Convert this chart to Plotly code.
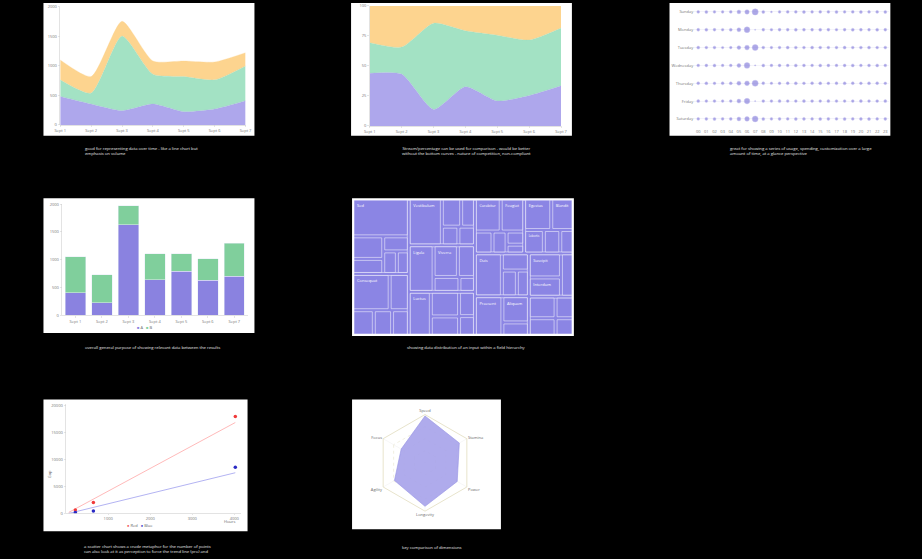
import numpy as np
import plotly.graph_objects as go

W, H = 922, 559


def fx(p):
    return p / W


def fy(p):
    return 1 - p / H


# ---------------- DATA ----------------
area_days = ["Sept 1", "Sept 2", "Sept 3", "Sept 4", "Sept 5", "Sept 6", "Sept 7"]
area_purple = [483, 354, 242, 354, 225, 270, 410]
area_green = [281, 185, 1264, 506, 595, 494, 590]
area_orange = [337, 281, 252, 224, 264, 303, 225]
area_ticks = [0, 500, 1000, 1500, 2000]

pct_ticks = [0, 25, 50, 75, 100]

dot_days = ["Sunday", "Monday", "Tuesday", "Wednesday", "Thursday", "Friday", "Saturday"]
dot_hours = ["%02d" % h for h in range(24)]
dot_sunday = [28, 30, 27, 26, 29, 38, 45, 62, 30, 18, 27, 29, 28, 30, 27, 29, 28, 30, 27, 29, 30, 28, 29, 30]
dot_monday = [29, 30, 28, 27, 30, 40, 58, 12, 28, 27, 29, 28, 30, 29, 28, 30, 29, 27, 28, 30, 29, 28, 30, 29]
dot_tuesday = [30, 28, 29, 24, 26, 38, 47, 60, 29, 26, 28, 30, 29, 28, 30, 29, 28, 29, 30, 28, 29, 30, 28, 29]
dot_wednesday = [28, 29, 30, 27, 28, 39, 57, 13, 30, 28, 29, 28, 30, 29, 28, 30, 29, 28, 29, 30, 28, 29, 30, 28]
dot_thursday = [29, 30, 28, 29, 30, 41, 48, 61, 29, 26, 28, 29, 30, 28, 29, 30, 28, 29, 30, 29, 28, 30, 29, 28]
dot_friday = [30, 28, 29, 27, 29, 40, 56, 12, 29, 28, 30, 29, 28, 30, 29, 28, 30, 29, 28, 29, 30, 28, 29, 30]
dot_saturday = [28, 29, 30, 28, 29, 39, 47, 59, 30, 27, 29, 28, 30, 29, 28, 30, 29, 28, 30, 28, 29, 30, 28, 29]
dot_rows = [dot_sunday, dot_monday, dot_tuesday, dot_wednesday, dot_thursday, dot_friday, dot_saturday]

bar_days = ["Sept 1", "Sept 2", "Sept 3", "Sept 4", "Sept 5", "Sept 6", "Sept 7"]
bar_a = [400, 221, 1630, 639, 788, 627, 698]
bar_b = [657, 507, 340, 465, 316, 388, 598]
bar_ticks = [0, 500, 1000, 1500, 2000]
bar_names = ["A", "B"]

tm_labels = [
    "Lorem ipsum",
    "Sed", "Sed", "Magna", "Nisl", "Orci", "Justo", "Felis",
    "Curabitur", "Curabitur", "Feugiat", "Mollis", "Porta", "Velit", "Risus",
    "Vestibulum", "Vestibulum", "Massa", "Neque", "Lacus", "Urna",
    "Duis", "Duis", "Rutrum", "Sapien", "Dui",
    "Praesent", "Praesent", "Aliquam", "Nunc",
    "Mauris", "Suscipit", "Interdum", "Mauris",
    "Egestas", "Egestas", "Blandit", "Lobortis", "Ante", "Erat",
    "Ligula", "Ligula", "Viverra", "Tellus", "Quam", "Morbi",
    "Consequat", "Consequat", "Pretium", "Lectus", "Metus", "Nibh",
    "Luctus", "Luctus", "Dictum", "Gravida", "Tortor", "Arcu",
    "Ultricies", "Ultricies", "Cursus", "Iaculis", "Eros",
]
tm_parents = [
    "",
    "Lorem ipsum", "Sed", "Sed", "Sed", "Sed", "Sed", "Sed",
    "Lorem ipsum", "Curabitur", "Curabitur", "Curabitur", "Curabitur", "Curabitur", "Curabitur",
    "Lorem ipsum", "Vestibulum", "Vestibulum", "Vestibulum", "Vestibulum", "Vestibulum",
    "Lorem ipsum", "Duis", "Duis", "Duis", "Duis",
    "Lorem ipsum", "Praesent", "Praesent", "Praesent",
    "Lorem ipsum", "Mauris", "Mauris", "Mauris",
    "Lorem ipsum", "Egestas", "Egestas", "Egestas", "Egestas", "Egestas",
    "Lorem ipsum", "Ligula", "Ligula", "Ligula", "Ligula", "Ligula",
    "Lorem ipsum", "Consequat", "Consequat", "Consequat", "Consequat", "Consequat",
    "Lorem ipsum", "Luctus", "Luctus", "Luctus", "Luctus", "Luctus",
    "Lorem ipsum", "Ultricies", "Ultricies", "Ultricies", "Ultricies",
]
tm_values = [
    0,
    0, 55, 18, 12, 10, 8, 7,
    0, 22, 20, 10, 8, 6, 4,
    0, 40, 14, 10, 8, 8,
    0, 30, 12, 10, 8,
    0, 28, 18, 9,
    0, 20, 16, 14,
    0, 22, 18, 12, 10, 8,
    0, 30, 20, 14, 10, 6,
    0, 35, 18, 14, 12, 11,
    0, 25, 18, 14, 10, 8,
    0, 15, 12, 10, 8,
]
tm_shown = {"Sed", "Curabitur", "Feugiat", "Vestibulum", "Duis", "Praesent", "Aliquam",
            "Suscipit", "Interdum", "Egestas", "Blandit", "Ligula", "Viverra",
            "Consequat", "Luctus", "Lobortis"}

scat_red_x = [219, 648, 4023]
scat_red_y = [615, 2031, 18031]
scat_blue_x = [219, 648, 4023]
scat_blue_y = [185, 431, 8615]
trend_x = [62, 4023]
trend_red_y = [185, 16920]
trend_blue_y = [0, 7570]
scat_xticks = [1000, 2000, 3000, 4000]
scat_yticks = [0, 5000, 10000, 15000, 20000]
scat_names = ["Red", "Blue"]

radar_axes = ["Speed", "Stamina", "Power", "Longevity", "Agility", "Focus"]
radar_values = [97, 82, 77, 90, 73, 57]

# ---------------- STYLE ----------------
C_PURPLE_L = "#aea7ec"
C_GREEN_L = "#a3e2c4"
C_ORANGE_L = "#fdd48f"
C_PURPLE = "#8a82e0"
C_GREEN = "#80cf9c"
TICKF = dict(family="Open Sans", size=4, color="#777")
CAPF = dict(family="Open Sans", size=4.2, color="#e8e8e8")

fig = go.Figure()

# ---- Chart 1: stacked area ----
for vals, col in [(area_purple, C_PURPLE_L), (area_green, C_GREEN_L), (area_orange, C_ORANGE_L)]:
    fig.add_trace(go.Scatter(x=area_days, y=vals, stackgroup="a1", mode="lines",
                             line=dict(width=0.3, color=col, shape="spline", smoothing=0.6),
                             fillcolor=col, xaxis="x", yaxis="y", showlegend=False, hoverinfo="skip"))

# ---- Chart 2: percentage stacked area ----
for vals, col in [(area_purple, C_PURPLE_L), (area_green, C_GREEN_L), (area_orange, C_ORANGE_L)]:
    fig.add_trace(go.Scatter(x=area_days, y=vals, stackgroup="a2", groupnorm="percent", mode="lines",
                             line=dict(width=0.3, color=col, shape="spline", smoothing=0.6),
                             fillcolor=col, xaxis="x2", yaxis="y2", showlegend=False, hoverinfo="skip"))

# ---- Chart 3: dot grid ----
dx, dy, ds = [], [], []
for r, row in enumerate(dot_rows):
    for c, v in enumerate(row):
        dx.append(c)
        dy.append(r)
        ds.append(v * 0.1)
fig.add_trace(go.Scatter(x=dx, y=dy, mode="markers",
                         marker=dict(size=ds, color="rgba(118,108,214,0.85)",
                                     line=dict(width=0.6, color="rgba(175,170,236,0.7)")),
                         xaxis="x3", yaxis="y3", showlegend=False, hoverinfo="skip"))

# ---- Chart 4: stacked bars ----
fig.add_trace(go.Bar(x=bar_days, y=bar_a, marker_color=C_PURPLE, name=bar_names[0],
                     xaxis="x4", yaxis="y4", showlegend=False, hoverinfo="skip"))
fig.add_trace(go.Bar(x=bar_days, y=bar_b, marker_color=C_GREEN, name=bar_names[1],
                     xaxis="x4", yaxis="y4", showlegend=False, hoverinfo="skip"))

# ---- Chart 5: treemap ----
tm_ids = []
for lab, par in zip(tm_labels, tm_parents):
    tm_ids.append((par + "/" + lab) if par else lab)
tm_par_ids = []
for par in tm_parents:
    if par == "":
        tm_par_ids.append("")
    elif par == "Lorem ipsum":
        tm_par_ids.append("Lorem ipsum")
    else:
        tm_par_ids.append("Lorem ipsum/" + par)
parent_set = set(tm_parents)
tm_text = []
for lab, par, val in zip(tm_labels, tm_parents, tm_values):
    show = val > 0 and lab in tm_shown and (lab == par or lab not in parent_set)
    tm_text.append("%{label}" if show else "")
fig.add_trace(go.Treemap(
    ids=tm_ids, labels=tm_labels, parents=tm_par_ids, values=tm_values,
    texttemplate=tm_text, textposition="top left",
    textfont=dict(family="Open Sans", size=4, color="white"),
    marker=dict(colors=["#8b85e4"] * len(tm_labels), line=dict(color="rgba(255,255,255,0.85)", width=0.6),
                pad=dict(t=0, l=0, r=0, b=0)),
    pathbar=dict(visible=False), tiling=dict(packing="squarify"),
    domain=dict(x=[fx(353), fx(574)], y=[fy(334), fy(199)]),
    hoverinfo="skip",
))

# ---- Chart 6: scatter ----
fig.add_trace(go.Scatter(x=trend_x, y=trend_red_y, mode="lines", line=dict(color="rgba(255,120,120,0.75)", width=0.7),
                         xaxis="x6", yaxis="y6", showlegend=False, hoverinfo="skip"))
fig.add_trace(go.Scatter(x=trend_x, y=trend_blue_y, mode="lines", line=dict(color="rgba(110,110,230,0.75)", width=0.7),
                         xaxis="x6", yaxis="y6", showlegend=False, hoverinfo="skip"))
fig.add_trace(go.Scatter(x=scat_red_x, y=scat_red_y, mode="markers", marker=dict(size=3.5, color="#f03a3a"),
                         xaxis="x6", yaxis="y6", showlegend=False, hoverinfo="skip"))
fig.add_trace(go.Scatter(x=scat_blue_x, y=scat_blue_y, mode="markers", marker=dict(size=3.5, color="#2a2ac4"),
                         xaxis="x6", yaxis="y6", showlegend=False, hoverinfo="skip"))

# ---- Chart 7: radar ----
fig.add_trace(go.Scatterpolar(r=radar_values + radar_values[:1], theta=radar_axes + radar_axes[:1],
                              fill="toself", fillcolor="rgba(166,162,234,0.9)",
                              line=dict(color="rgba(150,146,228,1)", width=0.6),
                              mode="lines", subplot="polar", showlegend=False, hoverinfo="skip"))


# ---------------- LAYOUT ----------------
def axis_common(**kw):
    d = dict(showgrid=False, zeroline=False, showline=True, linecolor="#d0d0d0", linewidth=0.6,
             ticks="outside", ticklen=2, tickwidth=0.5, tickcolor="#ccc", tickfont=TICKF,
             fixedrange=True)
    d.update(kw)
    return d


layout = dict(
    width=W, height=H, margin=dict(l=0, r=0, t=0, b=0),
    paper_bgcolor="black", plot_bgcolor="white",
    barmode="stack", bargap=0.23,
    font=dict(family="Open Sans"),
    xaxis=axis_common(domain=[fx(55), fx(243)], anchor="y", range=[0, 6]),
    yaxis=axis_common(domain=[fy(123), fy(4)], anchor="x", range=[0, 2000], tickvals=area_ticks),
    xaxis2=axis_common(domain=[fx(369), fx(563)], anchor="y2", range=[0, 6]),
    yaxis2=axis_common(domain=[fy(124), fy(3)], anchor="x2", range=[0, 100], tickvals=pct_ticks, ticksuffix="%"),
    xaxis3=axis_common(domain=[fx(698), fx(896)], anchor="y3", range=[-0.5, 23.5],
                       tickvals=list(range(24)), ticktext=dot_hours, showline=False, ticks=""),
    yaxis3=axis_common(domain=[fy(126), fy(0)], anchor="x3", range=[6.5, -0.5],
                       tickvals=list(range(7)), ticktext=dot_days, showline=False, ticks="",
                       showgrid=True, gridcolor="#ececf6", gridwidth=0.6),
    xaxis4=axis_common(domain=[fx(57), fx(245)], anchor="y4"),
    yaxis4=axis_common(domain=[fy(315), fy(203)], anchor="x4", range=[0, 2000], tickvals=bar_ticks),
    xaxis6=axis_common(domain=[fx(61), fx(238)], anchor="y6", range=[0, 4150], tickvals=scat_xticks,
                       ticklen=1, tickformat="d"),
    yaxis6=axis_common(domain=[fy(515), fy(405)], anchor="x6", range=[0, 20300], tickvals=scat_yticks,
                       tickformat="d"),
    polar=dict(
        domain=dict(x=[fx(376), fx(474)], y=[fy(513), fy(415)]),
        bgcolor="white",
        gridshape="linear",
        radialaxis=dict(range=[0, 100], showticklabels=False, ticks="", showline=False,
                        tickvals=[25, 50, 75, 100], gridcolor="#e8e4cc", griddash="dot", gridwidth=0.6),
        angularaxis=dict(rotation=90, direction="clockwise", tickfont=dict(family="Open Sans", size=4, color="#666"),
                         ticks="", showline=True, linecolor="#e8e4cc", gridcolor="#eeeeee", gridwidth=0.5),
    ),
)

shapes = []
for (x0, y0, x1, y1) in [(38, 0, 252, 134), (350, 0, 574, 134), (673, 0, 897, 134),
                         (38, 197, 252, 333), (351, 197, 576, 336), (38, 400, 245, 533),
                         (351, 400, 502, 531)]:
    shapes.append(dict(type="rect", xref="paper", yref="paper", x0=fx(x0), x1=fx(x1), y0=fy(y1), y1=fy(y0),
                       fillcolor="white", line=dict(width=0), layer="below"))
layout["shapes"] = shapes

ann = []


def cap(text, x, y, xanchor="left"):
    ann.append(dict(text=text, x=fx(x), y=fy(y), xref="paper", yref="paper", xanchor=xanchor, yanchor="top",
                    align="left" if xanchor == "left" else "center", showarrow=False, font=CAPF))


cap("good for representing data over time - like a line chart but<br>emphasis on volume", 78, 142)
cap("Stream/percentage can be used for comparison - would be better<br>without the bottom curves - nature of competition, non-compliant", 467, 142, "center")
cap("great for showing a series of usage, spending, customization over a large<br>amount of time, at a glance perspective", 732, 142)
cap("overall general purpose of showing relevant data between the results", 78, 343)
cap("showing data distribution of an input within a field hierarchy", 467, 343, "center")
cap("a scatter chart shows a crude metaphor for the number of points<br>can also look at it as perception to force the trend line (pro) and", 77, 544)
cap("key comparison of dimensions", 400, 545)

# legends as text
LEGF = dict(family="Open Sans", size=4, color="#666")


def label(text, x, y, angle=0):
    ann.append(dict(text=text, x=fx(x), y=fy(y), xref="paper", yref="paper", xanchor="center", yanchor="middle",
                    showarrow=False, textangle=angle, font=LEGF))


label("<span style='color:%s'>■</span> %s   <span style='color:%s'>■</span> %s" % (C_PURPLE, bar_names[0], C_GREEN, bar_names[1]), 141, 327)
label("<span style='color:#f03a3a'>●</span> %s   <span style='color:#2a2ac4'>●</span> %s" % (scat_names[0], scat_names[1]), 136, 527)
label("Gap", 44, 475, -90)
label("Hours", 227, 523)
layout["annotations"] = ann

fig.update_layout(**layout)
fig.write_html("out.html", config={"displayModeBar": False, "staticPlot": True},
               post_script="document.body.style.margin='0';document.body.style.background='black';")
